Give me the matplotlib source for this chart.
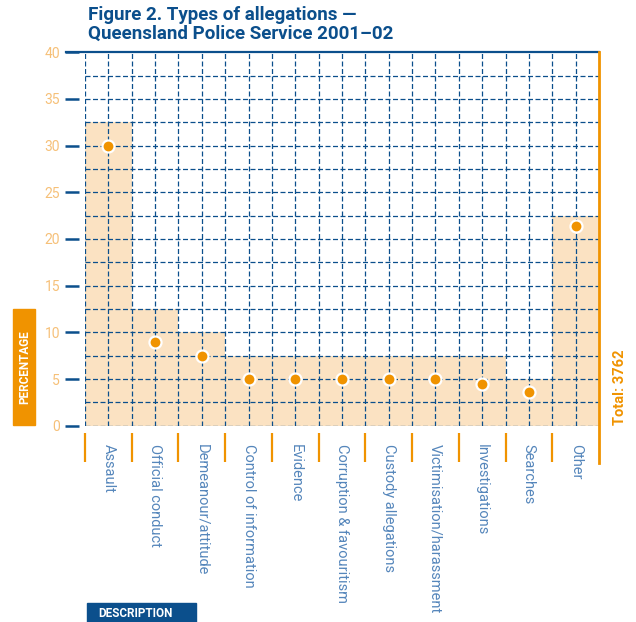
import numpy as np
import matplotlib.pyplot as plt
from matplotlib.lines import Line2D
from matplotlib.patches import Rectangle

# ----------------------------------------------------
# Data
# ----------------------------------------------------
categories = ["Assault", "Official conduct", "Demeanour/attitude",
              "Control of information", "Evidence", "Corruption & favouritism",
              "Custody allegations", "Victimisation/harassment",
              "Investigations", "Searches", "Other"]
percent = [30.0, 9.0, 7.5, 5.0, 5.0, 5.0, 5.0, 5.0, 4.5, 3.6, 21.4]
band_height = [32.5, 12.5, 10.0, 7.5, 7.5, 7.5, 7.5, 7.5, 7.5, 5.0, 22.5]
y_ticks = [0, 5, 10, 15, 20, 25, 30, 35, 40]
total = 3762

# ----------------------------------------------------
# Colours
# ----------------------------------------------------
BLUE = "#0b4f8c"
ORANGE = "#f09300"
PEACH = "#fbe2c2"
TICK_TXT = "#f6c078"
LABEL_TXT = "#5586bb"

W, H = 636, 622
fig = plt.figure(figsize=(W / 100, H / 100), dpi=100)
ax = fig.add_axes([85 / W, 1 - 425.7 / H, (599 - 85) / W, (425.7 - 52.3) / H])

n = len(categories)
x = np.arange(n)

# shaded staircase and points
ax.bar(x, band_height, width=1.0, align="edge", color=PEACH, zorder=1)
ax.scatter(x + 0.5, percent, s=75, color=ORANGE, edgecolor="white",
           linewidth=1.6, zorder=4, clip_on=False)

# dashed grid
dash = (0, (4, 2))
for yy in np.arange(0, 40, 2.5):
    ax.axhline(yy, color=BLUE, lw=0.9, ls=dash, zorder=2)
for xx in np.arange(0, n, 0.5):
    ax.axvline(xx, color=BLUE, lw=0.9, ls=dash, zorder=2)

ax.set_xlim(0, n)
ax.set_ylim(0, 40)

for s in ax.spines.values():
    s.set_visible(False)
ax.spines["left"].set_position(("outward", 4))
ax.spines["bottom"].set_position(("outward", 5.4))

# y axis
ax.set_yticks(y_ticks)
ax.tick_params(axis="y", length=10, width=1.8, color=BLUE, pad=4,
               labelcolor=TICK_TXT, labelsize=10)
for lab in ax.get_yticklabels():
    lab.set_fontfamily("Roboto")

# x axis: orange boundary ticks, labels in the middle of each category
ax.set_xticks(np.arange(0, n))
ax.set_xticklabels([])
ax.tick_params(axis="x", which="major", length=21, width=1.6, color=ORANGE)
ax.set_xticks(x + 0.5, minor=True)
ax.set_xticklabels(categories, minor=True, rotation=-90, color=LABEL_TXT,
                   fontsize=10.5, fontfamily="Roboto")
ax.tick_params(axis="x", which="minor", length=0, pad=8)

# top rule and right orange rule
ax.add_line(Line2D([-19 / 514, 1], [1, 1], transform=ax.transAxes,
                   color=BLUE, lw=1.6, clip_on=False, zorder=5))
ax.add_line(Line2D([1, 1], [1, -37 / 373.4], transform=ax.transAxes,
                   color=ORANGE, lw=2, clip_on=False, zorder=5))

# title
fig.text(88 / W, 1 - 6 / H, "Figure 2. Types of allegations \u2014\nQueensland Police Service 2001\u201302",
         ha="left", va="top", fontsize=13.5, fontweight="bold", color=BLUE,
         fontfamily="Roboto", linespacing=1.05)

# PERCENTAGE box
fig.patches.append(Rectangle((13 / W, 1 - 425 / H), 22 / W, 116 / H,
                             transform=fig.transFigure, color=ORANGE))
fig.text(24.5 / W, 1 - 367 / H, "PERCENTAGE", rotation=90, ha="center",
         va="center", color="white", fontsize=8.5, fontweight="bold",
         fontfamily="Roboto")

# total
fig.text(620 / W, 1 - 425 / H, f"Total: {total}", rotation=90, ha="center",
         va="bottom", color=ORANGE, fontsize=10.5, fontweight="bold",
         fontfamily="Roboto")

# DESCRIPTION box
fig.patches.append(Rectangle((87 / W, 0), 109 / W, 19 / H,
                             transform=fig.transFigure, color=BLUE))
fig.text(98 / W, 8.5 / H, "DESCRIPTION", ha="left", va="center",
         color="white", fontsize=8.5, fontweight="bold", fontfamily="Roboto")

fig.savefig("out.png", dpi=100)
